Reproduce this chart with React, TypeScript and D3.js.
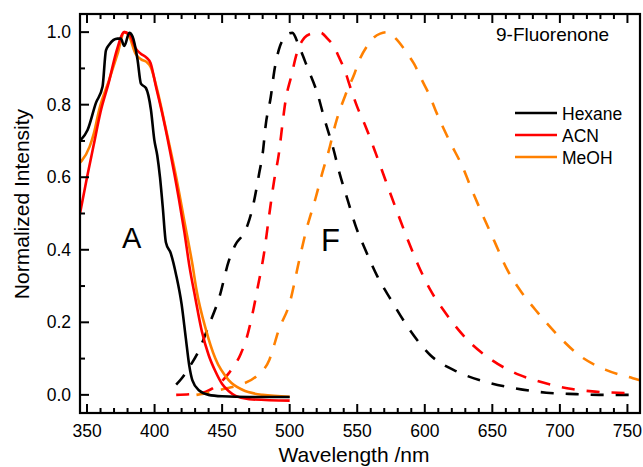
import * as d3 from "d3";
import React from "react";

// absorption spectra (solid), [wavelength nm, normalized intensity]
const hexaneAbs: [number, number][] = [
  [344.8, 0.7], [350.4, 0.73], [356.6, 0.805], [361.5, 0.85], [364, 0.95], [366.5, 0.966],
  [372.6, 0.982], [375, 0.982], [377.6, 0.962], [381.3, 0.998], [383.7, 0.988], [387.4, 0.924],
  [389.9, 0.858], [393.6, 0.846], [397.3, 0.786], [399.8, 0.703], [402, 0.66], [404, 0.6],
  [406, 0.52], [408.4, 0.42], [412, 0.39], [416, 0.33], [420, 0.25], [423, 0.16],
  [425.7, 0.08], [428, 0.04], [433, 0.012], [440, 0.0], [450, -0.004], [470, -0.006], [500, -0.006],
];
const acnAbs: [number, number][] = [
  [344.8, 0.5], [350, 0.6], [355, 0.69], [360, 0.78], [366, 0.86], [372, 0.95], [377.6, 1.0],
  [382, 0.99], [386, 0.955], [390, 0.94], [394, 0.93], [397, 0.915], [401, 0.85], [406, 0.77],
  [411, 0.68], [418, 0.54], [422, 0.45], [426, 0.35], [430, 0.27], [435, 0.175], [440, 0.11],
  [445, 0.065], [450, 0.03], [455, 0.01], [460, -0.003], [470, -0.012], [500, -0.016],
];
const meohAbs: [number, number][] = [
  [344.8, 0.64], [346, 0.645], [352, 0.685], [355, 0.72], [359, 0.786], [366.5, 0.87],
  [372.6, 0.94], [377.6, 1.0], [381, 0.99], [386, 0.94], [390, 0.925], [394, 0.918],
  [397, 0.905], [402, 0.84], [408, 0.74], [416, 0.6], [423, 0.46], [428, 0.36], [431, 0.29],
  [438, 0.18], [445, 0.1], [455, 0.04], [465, 0.014], [480, 0.0], [500, -0.005],
];

// fluorescence spectra (dashed)
const hexaneEm: [number, number][] = [
  [416, 0.028], [420, 0.045], [426, 0.078], [433, 0.124], [440, 0.19], [448, 0.27], [455, 0.37],
  [460, 0.415], [465, 0.44], [469, 0.47], [472.5, 0.515], [477.4, 0.61], [480, 0.665],
  [482.4, 0.748], [486, 0.821], [488.5, 0.89], [492, 0.952], [495, 0.98], [498, 0.994],
  [502, 0.998], [507, 0.96], [513, 0.904], [520.6, 0.83], [526, 0.757], [532, 0.683], [537, 0.61],
  [543, 0.536], [549, 0.464], [556, 0.4], [565, 0.326], [575, 0.262], [588, 0.184],
  [604, 0.11], [624, 0.064], [644, 0.037], [667, 0.018], [690, 0.006], [712, 0.002],
  [729, 0.0], [751, 0.0],
];
const acnEm: [number, number][] = [
  [416, 0.0], [430, 0.003], [438, 0.009], [445, 0.023], [455, 0.06], [464, 0.115], [468, 0.155],
  [472, 0.215], [476, 0.29], [481, 0.39], [485, 0.5], [488.5, 0.591], [492, 0.665],
  [494.7, 0.748], [497, 0.812], [501, 0.876], [506, 0.95], [511, 0.985], [516, 0.996],
  [520.6, 1.0], [524, 0.997], [528, 0.982], [533, 0.959], [536, 0.935], [541.6, 0.886],
  [544, 0.858], [550, 0.794], [556.4, 0.738], [563.8, 0.665], [571, 0.591], [578, 0.52],
  [586, 0.441], [594.5, 0.363], [604, 0.29], [615.5, 0.225], [631.5, 0.152], [650, 0.095],
  [670, 0.055], [689.5, 0.032], [709, 0.016], [726, 0.009], [752, 0.005],
];
const meohEm: [number, number][] = [
  [431, 0.0], [440, 0.006], [453, 0.018], [465, 0.03], [475, 0.05], [485, 0.097], [492, 0.18],
  [500, 0.253], [507, 0.37], [512, 0.45], [519, 0.54], [524, 0.61], [529, 0.674], [534, 0.748],
  [541.6, 0.83], [548, 0.886], [551.5, 0.922], [557.7, 0.964], [561.4, 0.982], [567, 0.996],
  [572.5, 1.0], [578.6, 0.982], [587, 0.941], [592, 0.913], [598, 0.867], [603, 0.83],
  [608, 0.784], [618, 0.702], [628, 0.628], [635, 0.564], [641.4, 0.508], [651, 0.428],
  [661, 0.345], [672, 0.281], [682, 0.234], [698, 0.166], [714, 0.11], [734, 0.069],
  [754, 0.046], [759.3, 0.04],
];

const solvents = ["Hexane", "ACN", "MeOH"];
const colors = ["#000000", "#ff0000", "#ff8000"];
const absSeries = [hexaneAbs, acnAbs, meohAbs];
const emSeries = [hexaneEm, acnEm, meohEm];

const xTicks = [350, 400, 450, 500, 550, 600, 650, 700, 750];
const yTicks = [0.0, 0.2, 0.4, 0.6, 0.8, 1.0];

const W = 643;
const H = 467;
const margin = { top: 14, right: 3, bottom: 54, left: 80 };
const font = "Arial, 'Liberation Sans', sans-serif";

const App = () => {
  const x = d3
    .scaleLinear()
    .domain([344.8, 759.3])
    .range([margin.left, W - margin.right]);
  const y = d3
    .scaleLinear()
    .domain([-0.05, 1.05])
    .range([H - margin.bottom, margin.top]);

  const line = d3
    .line<[number, number]>()
    .x((d) => x(d[0]))
    .y((d) => y(d[1]))
    .curve(d3.curveMonotoneX);

  const x0 = margin.left;
  const x1 = W - margin.right;
  const y0 = H - margin.bottom;
  const y1 = margin.top;

  const xMinor = d3.range(350, 760, 10).filter((v) => v % 50 !== 0);
  const yMinor = [0.1, 0.3, 0.5, 0.7, 0.9];

  return (
    <svg
      width={W}
      height={H}
      style={{ position: "absolute", left: 0, top: 0, background: "#fff" }}
      fontFamily={font}
    >
      <defs>
        <clipPath id="plotClip">
          <rect x={x0} y={y1} width={x1 - x0} height={y0 - y1} />
        </clipPath>
      </defs>

      <g clipPath="url(#plotClip)" fill="none" strokeLinejoin="round">
        {emSeries.map((s, i) => (
          <path
            key={"em" + i}
            d={line(s) || ""}
            stroke={colors[i]}
            strokeWidth={2.6}
            strokeDasharray="13,12"
          />
        ))}
        {absSeries
          .map((s, i) => ({ s, i }))
          .reverse()
          .map(({ s, i }) => (
            <path key={"abs" + i} d={line(s) || ""} stroke={colors[i]} strokeWidth={2.6} />
          ))}
      </g>

      {/* frame */}
      <rect x={x0} y={y1} width={x1 - x0} height={y0 - y1} fill="none" stroke="#000" strokeWidth={2.2} />

      {/* x ticks bottom + top */}
      {xTicks.map((t) => (
        <g key={"xt" + t}>
          <line x1={x(t)} x2={x(t)} y1={y0} y2={y0 - 9} stroke="#000" strokeWidth={2} />
          <line x1={x(t)} x2={x(t)} y1={y1} y2={y1 + 9} stroke="#000" strokeWidth={2} />
          <text x={x(t)} y={437} textAnchor="middle" fontSize={17.5} fill="#000">
            {t}
          </text>
        </g>
      ))}
      {xMinor.map((t) => (
        <g key={"xm" + t}>
          <line x1={x(t)} x2={x(t)} y1={y0} y2={y0 - 5} stroke="#000" strokeWidth={2} />
          <line x1={x(t)} x2={x(t)} y1={y1} y2={y1 + 5} stroke="#000" strokeWidth={2} />
        </g>
      ))}

      {/* y ticks */}
      {yTicks.map((t) => (
        <g key={"yt" + t}>
          <line x1={x0} x2={x0 + 9} y1={y(t)} y2={y(t)} stroke="#000" strokeWidth={2} />
          <text x={71} y={y(t) + 6} textAnchor="end" fontSize={17.5} fill="#000">
            {t.toFixed(1)}
          </text>
        </g>
      ))}
      {yMinor.map((t) => (
        <line key={"ym" + t} x1={x0} x2={x0 + 5} y1={y(t)} y2={y(t)} stroke="#000" strokeWidth={2} />
      ))}

      {/* axis titles */}
      <text x={354} y={462} textAnchor="middle" fontSize={21} fill="#000">
        Wavelength /nm
      </text>
      <text
        transform="translate(29,204) rotate(-90)"
        textAnchor="middle"
        fontSize={21}
        fill="#000"
      >
        Normalized Intensity
      </text>

      {/* annotations */}
      <text x={122} y={248} fontSize={29} fill="#000">
        A
      </text>
      <text x={321} y={251} fontSize={31} fill="#000">
        F
      </text>
      <text x={496} y={40.5} fontSize={19} fill="#000">
        9-Fluorenone
      </text>

      {/* legend */}
      {solvents.map((name, i) => (
        <g key={name} transform={`translate(0,${113 + i * 22})`}>
          <line x1={515} x2={557} y1={0} y2={0} stroke={colors[i]} strokeWidth={2.4} />
          <text x={562} y={6.5} fontSize={17.5} fill="#000">
            {name}
          </text>
        </g>
      ))}
    </svg>
  );
};

export default App;
